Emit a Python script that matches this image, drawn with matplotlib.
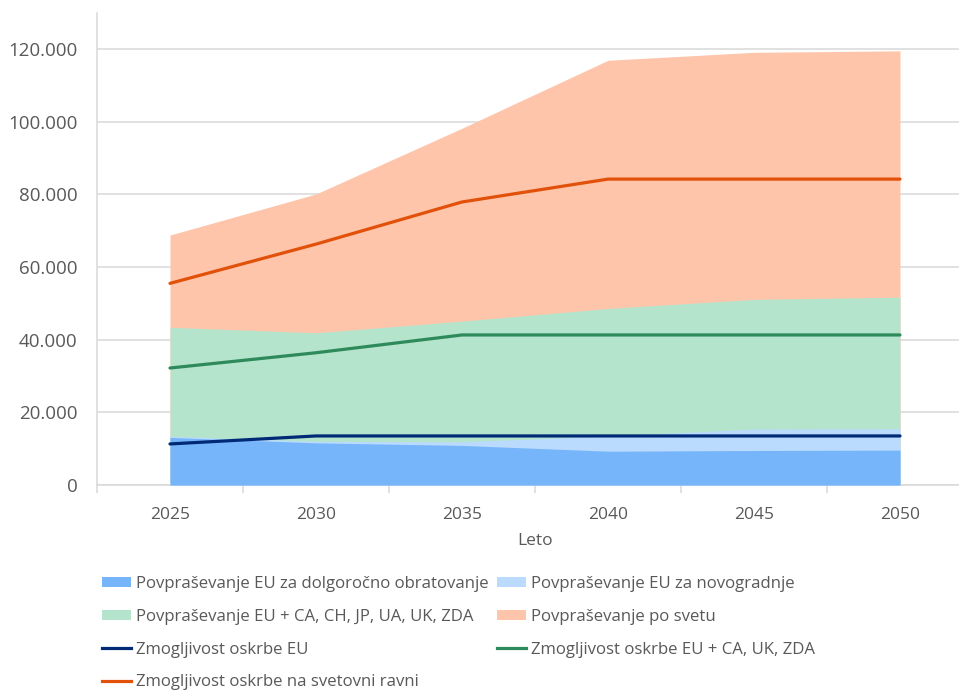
import matplotlib
matplotlib.use("Agg")
import matplotlib.pyplot as plt
from matplotlib.patches import Patch
from matplotlib.lines import Line2D
from matplotlib.ticker import FuncFormatter, FixedLocator

plt.rcParams['font.family'] = ['Open Sans', 'DejaVu Sans']

# Years on the category axis
years = ["2025", "2030", "2035", "2040", "2045", "2050"]

# Demand (total levels of each area, in tonnes)
demand_eu_lto = [13100, 11600, 10900, 9300, 9500, 9600]
demand_eu_new = [13400, 12000, 11900, 13500, 15400, 15500]
demand_eu_plus = [43400, 41900, 45100, 48600, 51100, 51700]
demand_world = [68800, 80100, 98200, 116900, 119100, 119500]

# Supply capacity
supply_eu = [11300, 13500, 13500, 13500, 13500, 13500]
supply_eu_plus = [32200, 36400, 41300, 41300, 41300, 41300]
supply_world = [55500, 66300, 77900, 84200, 84200, 84200]

labels = [
    "Povpraševanje EU za dolgoročno obratovanje",
    "Povpraševanje EU za novogradnje",
    "Povpraševanje EU + CA, CH, JP, UA, UK, ZDA",
    "Povpraševanje po svetu",
    "Zmogljivost oskrbe EU",
    "Zmogljivost oskrbe EU + CA, UK, ZDA",
    "Zmogljivost oskrbe na svetovni ravni",
]

c_lto = "#76B5F9"
c_new = "#BADBFD"
c_plus = "#B4E4CB"
c_world = "#FEC5AB"
c_sup_eu = "#002A76"
c_sup_plus = "#2F8A5B"
c_sup_world = "#E2510A"
text_col = "#595959"
grid_col = "#D9D9D9"

W, H = 959, 695
fig = plt.figure(figsize=(W / 100, H / 100), dpi=100)
x0, x1 = 97, 973
y0, y1 = 485, 12.7
ax = fig.add_axes([x0 / W, 1 - y0 / H, (x1 - x0) / W, (y0 - y1) / H])

x = list(range(len(years)))

# Areas drawn from back to front
ax.fill_between(x, 0, demand_world, color=c_world, lw=0, zorder=2)
ax.fill_between(x, 0, demand_eu_plus, color=c_plus, lw=0, zorder=3)
ax.fill_between(x, 0, demand_eu_new, color=c_new, lw=0, zorder=4)
ax.fill_between(x, 0, demand_eu_lto, color=c_lto, lw=0, zorder=5)

lw = 2.3
ax.plot(x, supply_eu, color=c_sup_eu, lw=lw, zorder=6, solid_capstyle='round')
ax.plot(x, supply_eu_plus, color=c_sup_plus, lw=lw, zorder=6, solid_capstyle='round')
ax.plot(x, supply_world, color=c_sup_world, lw=lw, zorder=6, solid_capstyle='round')

ax.set_xlim(-0.5, 5.5)
ax.set_ylim(0, 130000)

ax.yaxis.set_major_locator(FixedLocator(range(0, 120001, 20000)))
ax.yaxis.set_major_formatter(FuncFormatter(lambda v, p: f"{int(v):,}".replace(",", ".")))
ax.grid(axis='y', color=grid_col, lw=1.1, zorder=0)
ax.set_axisbelow(True)

ax.set_xticks(x)
ax.set_xticklabels(years)
ax.set_xticks([i + 0.5 for i in range(-1, len(years))], minor=True)
ax.tick_params(axis='x', which='major', length=0, pad=16, labelsize=12.5, labelcolor=text_col)
ax.tick_params(axis='x', which='minor', length=6, width=1.1, color=grid_col)
ax.tick_params(axis='y', length=0, pad=14, labelsize=13.5, labelcolor=text_col)

for s in ['top', 'right']:
    ax.spines[s].set_visible(False)
for s in ['left', 'bottom']:
    ax.spines[s].set_color(grid_col)
    ax.spines[s].set_linewidth(1.1)

ax.set_xlabel("Leto", fontsize=12.5, color=text_col, labelpad=7)
ax.xaxis.label.set_x((535 - x0) / (x1 - x0))

handles = [
    Patch(facecolor=c_lto, edgecolor='none'),
    Patch(facecolor=c_new, edgecolor='none'),
    Patch(facecolor=c_plus, edgecolor='none'),
    Patch(facecolor=c_world, edgecolor='none'),
    Line2D([], [], color=c_sup_eu, lw=lw),
    Line2D([], [], color=c_sup_plus, lw=lw),
    Line2D([], [], color=c_sup_world, lw=lw),
]

common = dict(frameon=False, fontsize=12.1, labelcolor=text_col, handlelength=1.7,
              handleheight=0.6, handletextpad=0.3, borderpad=0, borderaxespad=0,
              labelspacing=1.0, loc='upper left')
left_idx = [0, 2, 4, 6]
right_idx = [1, 3, 5]
leg1 = fig.legend([handles[i] for i in left_idx], [labels[i] for i in left_idx],
                  bbox_to_anchor=(102 / W, 1 - 576 / H), **common)
leg2 = fig.legend([handles[i] for i in right_idx], [labels[i] for i in right_idx],
                  bbox_to_anchor=(497 / W, 1 - 576 / H), **common)

fig.savefig("out.png", dpi=100)
